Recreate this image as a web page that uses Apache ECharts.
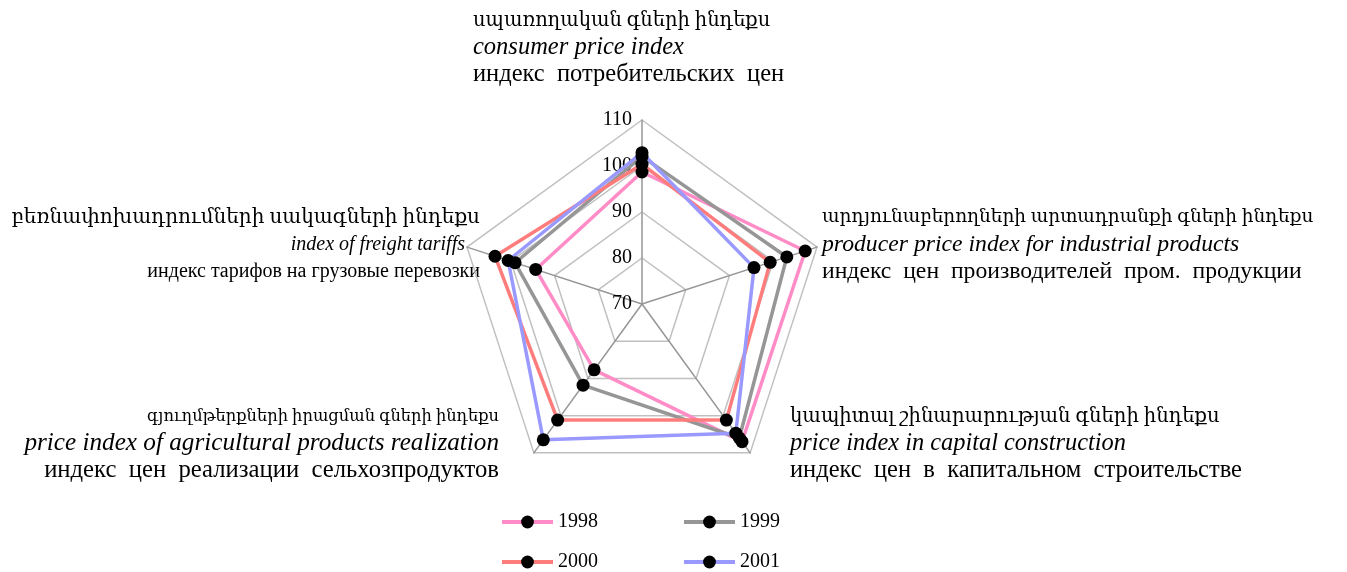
<!DOCTYPE html>
<html style="height: 100%">
<head>
    <meta charset="utf-8">
</head>
<body style="height: 100%; margin: 0; background: #fff">
<div id="container" style="width:1347px;height:572px"></div>
<script type="text/javascript" src="https://cdn.jsdelivr.net/npm/echarts@6/dist/echarts.min.js"></script>
<script type="text/javascript">

    // indicators, counter-clockwise from the top (ECharts order)
    var namesHy = ['սպառողական գների ինդեքս', 'բեռնափոխադրումների սակագների ինդեքս',
        'գյուղմթերքների իրացման գների ինդեքս', 'կապիտալ շինարարության գների ինդեքս',
        'արդյունաբերողների արտադրանքի գների ինդեքս'];
    var namesEn = ['consumer price index', 'index of freight tariffs',
        'price index of agricultural products realization', 'price index in capital construction',
        'producer price index for industrial products'];
    var namesRu = ['индекс  потребительских  цен', 'индекс тарифов на грузовые перевозки',
        'индекс  цен  реализации  сельхозпродуктов', 'индекс  цен  в  капитальном  строительстве',
        'индекс  цен  производителей  пром.  продукции'];

    var years = ['1998', '1999', '2000', '2001'];
    var v1998 = [98.7, 94.3, 87.7, 107.0, 107.3];
    var v1999 = [102.1, 99.0, 91.8, 106.0, 103.1];
    var v2000 = [100.4, 103.6, 101.2, 101.2, 99.3];
    var v2001 = [102.9, 100.6, 106.5, 104.7, 95.6];
    var colors = ['#ff8cc6', '#969696', '#ff7c7c', '#9999ff'];

    f1();
    function f1() {
        var dom = document.getElementById("container");
        var myChart = echarts.init(dom);
        var font = '"Liberation Serif", "DejaVu Serif", serif';
        var values = [v1998, v1999, v2000, v2001];

        var indicator = namesEn.map(function (n, i) {
            return {name: n, min: 70, max: 110, axisLabel: {show: i === 0}};
        });

        // label blocks: x, y, align, font sizes for the three lines
        var spots = [
            [473, 7, 'left', [19.5, 24.5, 24.5]],
            [480, 204, 'right', [20, 20, 20]],
            [499, 403, 'right', [16.3, 25.2, 24.7]],
            [790, 403, 'left', [19.6, 24.4, 24.5]],
            [822, 204, 'left', [18.5, 23.7, 23.7]]
        ];
        var graphic = spots.map(function (s, i) {
            var sz = s[3];
            return {
                type: 'text', x: s[0], y: s[1],
                style: {
                    text: '{a|' + namesHy[i] + '}\n{e|' + namesEn[i] + '}\n{r|' + namesRu[i] + '}',
                    align: s[2], verticalAlign: 'top', fill: '#000',
                    rich: {
                        a: {fontFamily: font, fontSize: sz[0], lineHeight: 27},
                        e: {fontFamily: font, fontSize: sz[1], lineHeight: 27, fontStyle: 'italic',
                            padding: i === 1 ? [0, 15, 0, 0] : 0},
                        r: {fontFamily: font, fontSize: sz[2], lineHeight: 27}
                    }
                }
            };
        });

        // empty line series only give the legend its line + dot icons
        var legendSeries = years.map(function (y, i) {
            return {
                type: 'line', name: y, data: [],
                symbol: 'circle',
                lineStyle: {color: colors[i], width: 4},
                itemStyle: {color: '#000'}
            };
        });

        var legendBase = {
            left: 500, padding: 0,
            itemWidth: 51, itemHeight: 16, itemGap: 84,
            lineStyle: {width: 4},
            textStyle: {fontFamily: font, fontSize: 20, color: '#000'}
        };

        var option = {
            animation: false,
            backgroundColor: '#fff',
            grid: {show: false, left: 0, top: 0, width: 10, height: 10},
            xAxis: {type: 'value', show: false},
            yAxis: {type: 'value', show: false},
            legend: [
                Object.assign({data: years.slice(0, 2), top: 512}, legendBase),
                Object.assign({data: years.slice(2, 4), top: 552}, legendBase)
            ],
            radar: {
                center: [642, 304],
                radius: 184,
                startAngle: 90,
                splitNumber: 4,
                shape: 'polygon',
                indicator: indicator,
                axisName: {show: false},
                axisLine: {lineStyle: {color: '#969696', width: 1.5}},
                splitLine: {lineStyle: {color: '#c0c0c0', width: 1.5}},
                splitArea: {show: false},
                axisTick: {show: false},
                axisLabel: {
                    fontFamily: font, fontSize: 20, color: '#000', margin: 10,
                    padding: [6, 0, 0, 0]
                }
            },
            graphic: graphic,
            series: legendSeries.concat([{
                type: 'radar',
                symbol: 'circle',
                symbolSize: 13,
                data: years.map(function (y, i) {
                    return {
                        name: y,
                        value: values[i],
                        lineStyle: {color: colors[i], width: 3.5},
                        itemStyle: {color: '#000'}
                    };
                })
            }])
        };
        myChart.setOption(option);
    }
</script>
</body>
</html>
